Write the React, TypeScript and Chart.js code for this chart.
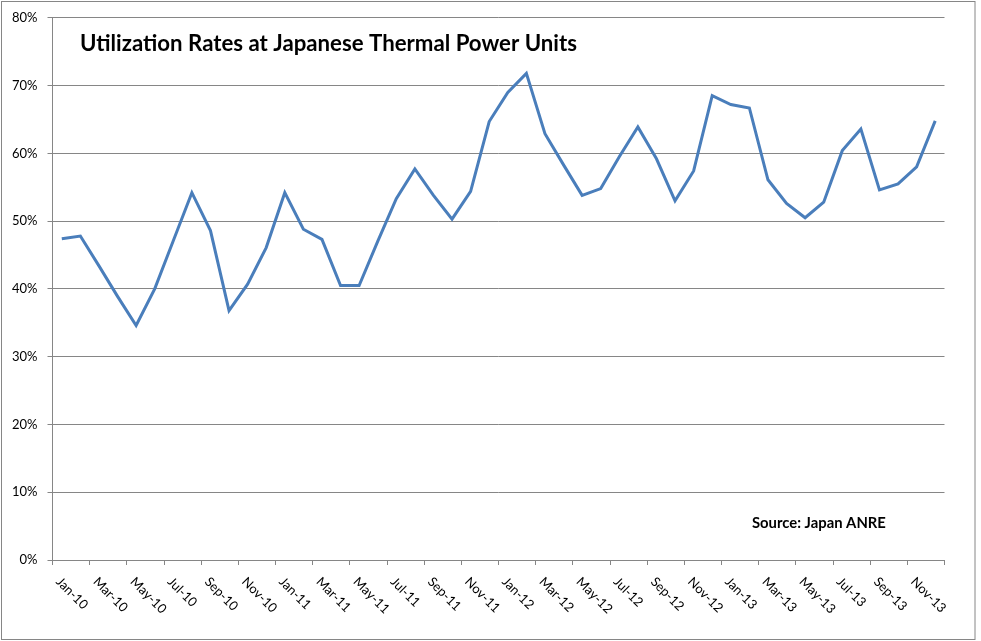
import { useEffect, useRef } from "react";
import { Chart, registerables } from "chart.js";

Chart.register(...registerables);

const CATEGORIES = [
  "Jan-10", "Feb-10", "Mar-10", "Apr-10", "May-10", "Jun-10", "Jul-10", "Aug-10", "Sep-10", "Oct-10", "Nov-10", "Dec-10",
  "Jan-11", "Feb-11", "Mar-11", "Apr-11", "May-11", "Jun-11", "Jul-11", "Aug-11", "Sep-11", "Oct-11", "Nov-11", "Dec-11",
  "Jan-12", "Feb-12", "Mar-12", "Apr-12", "May-12", "Jun-12", "Jul-12", "Aug-12", "Sep-12", "Oct-12", "Nov-12", "Dec-12",
  "Jan-13", "Feb-13", "Mar-13", "Apr-13", "May-13", "Jun-13", "Jul-13", "Aug-13", "Sep-13", "Oct-13", "Nov-13", "Dec-13",
];

const UTILIZATION = [
  47.4, 47.8, 43.4, 38.9, 34.6, 40.0, 47.1, 54.2, 48.6, 36.8, 40.7, 46.1,
  54.2, 48.8, 47.3, 40.5, 40.5, 47.0, 53.3, 57.7, 53.8, 50.3, 54.4, 64.7,
  69.0, 71.8, 62.9, 58.3, 53.8, 54.8, 59.5, 63.9, 59.2, 53.0, 57.4, 68.5,
  67.2, 66.7, 56.1, 52.6, 50.5, 52.8, 60.4, 63.6, 54.6, 55.5, 58.0, 64.8,
];

const Y_MIN = 0;
const Y_MAX = 80;
const Y_STEP = 10;

const TITLE = "Utilization Rates at Japanese Thermal Power Units";
const SOURCE = "Source: Japan ANRE";

const GRID = "#868686";
const LINE = "#4A7EBB";
const FONT = "Lato, 'Open Sans', 'Noto Sans', sans-serif";

function fitFont(ctx: CanvasRenderingContext2D, text: string, base: number, target: number, weight: string) {
  ctx.font = `${weight} ${base}px ${FONT}`;
  const w = ctx.measureText(text).width;
  const size = (base * target) / w;
  ctx.font = `${weight} ${size}px ${FONT}`;
}

export default function App() {
  const ref = useRef<HTMLCanvasElement>(null);

  useEffect(() => {
    if (!ref.current) return;
    const overlay = {
      id: "overlay",
      beforeDraw(chart: any) {
        const ctx = chart.ctx as CanvasRenderingContext2D;
        ctx.save();
        ctx.fillStyle = "#ffffff";
        ctx.fillRect(0, 0, chart.width, chart.height);
        ctx.strokeStyle = GRID;
        ctx.lineWidth = 1;
        ctx.strokeRect(1.5, 1.5, 973.5, 638);
        ctx.restore();
      },
      afterDraw(chart: any) {
        const ctx = chart.ctx as CanvasRenderingContext2D;
        const xs = chart.scales.x;
        ctx.save();
        ctx.fillStyle = "#000000";
        ctx.font = `13px ${FONT}`;
        ctx.textAlign = "left";
        ctx.textBaseline = "top";
        CATEGORIES.forEach((c, i) => {
          if (i % 2 !== 0) return;
          const px = xs.getPixelForValue(i);
          ctx.save();
          ctx.translate(px + 1, 575);
          ctx.rotate(Math.PI / 4);
          ctx.fillText(c, 0, 0);
          ctx.restore();
        });
        ctx.textBaseline = "alphabetic";
        fitFont(ctx, TITLE, 22, 497, "bold");
        ctx.fillText(TITLE, 80, 51);
        fitFont(ctx, SOURCE, 13, 134, "bold");
        ctx.fillText(SOURCE, 752, 528);
        ctx.restore();
      },
    };

    const chart = new Chart(ref.current, {
      type: "line",
      data: {
        labels: CATEGORIES,
        datasets: [
          {
            data: UTILIZATION,
            borderColor: LINE,
            borderWidth: 3,
            pointRadius: 0,
            tension: 0,
            fill: false,
          },
        ],
      },
      options: {
        responsive: false,
        animation: false,
        devicePixelRatio: 1,
        layout: { padding: { top: 17, right: 36.5, left: 0, bottom: 0 } },
        plugins: { legend: { display: false }, tooltip: { enabled: false }, title: { display: false } },
        scales: {
          x: {
            type: "category",
            offset: true,
            grid: {
              offset: true,
              drawOnChartArea: false,
              tickLength: 5,
              color: (ctx: any) => (ctx.index === undefined || ctx.index % 2 === 0 ? GRID : "rgba(0,0,0,0)"),
            },
            border: { color: GRID },
            ticks: { display: false, autoSkip: false },
            afterFit: (s: any) => {
              s.height = 81;
            },
          },
          y: {
            min: Y_MIN,
            max: Y_MAX,
            ticks: {
              stepSize: Y_STEP,
              callback: (v: any) => `${v}%`,
              font: { family: FONT, size: 13 },
              color: "#000000",
              padding: 10,
            },
            grid: { color: GRID, tickLength: 5 },
            border: { color: GRID },
            afterFit: (s: any) => {
              s.width = 52.5;
            },
          },
        },
      },
      plugins: [overlay],
    });
    return () => chart.destroy();
  }, []);

  return (
    <div style={{ position: "absolute", left: 0, top: 0, width: 981, height: 641, background: "#fff" }}>
      <canvas ref={ref} width={981} height={641} style={{ display: "block" }} />
    </div>
  );
}
